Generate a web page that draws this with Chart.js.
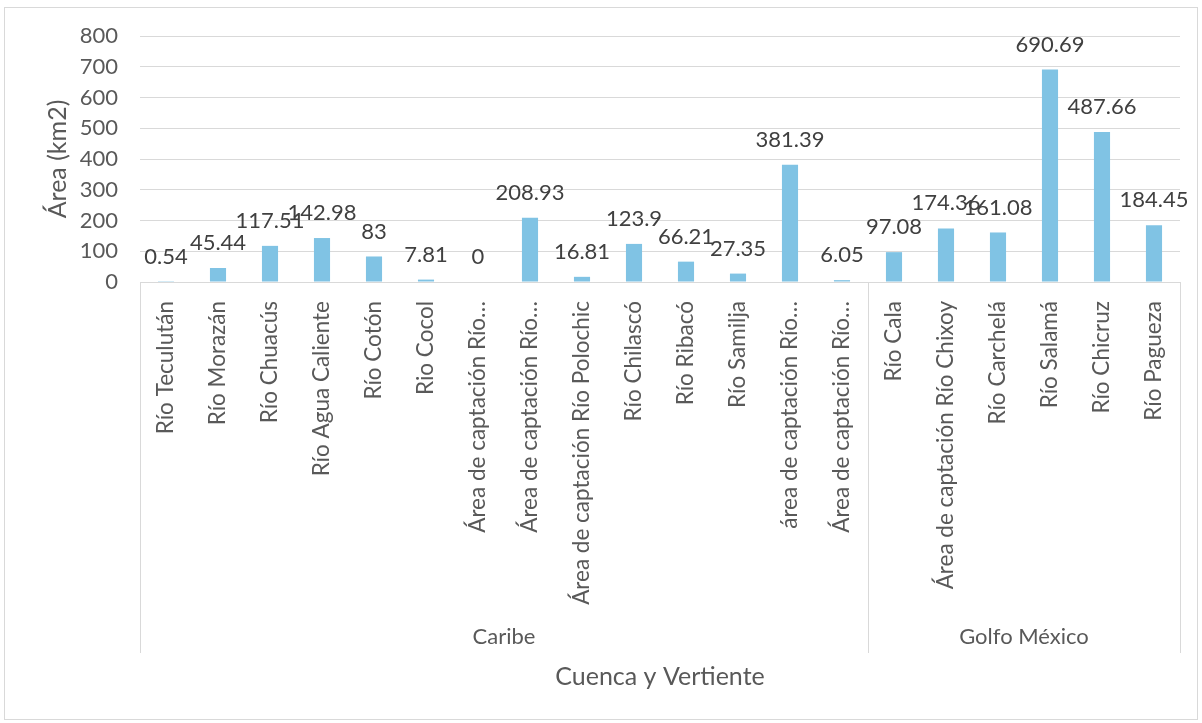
<!DOCTYPE html>
<html>
<head>
<meta charset="utf-8">
<script src="https://cdn.jsdelivr.net/npm/chart.js"></script>
<style>
    body { margin: 0; background: #ffffff; }
    #wrap { width: 1202px; height: 723px; }
</style>
</head>
<body>
<div id="wrap"><canvas id="chart" width="1202" height="723"></canvas></div>
<script>
// categories (labels as shown on the axis, truncated ones kept as in the picture)
const rivers = [
    'Río Teculután', 'Río Morazán', 'Río Chuacús', 'Río Agua Caliente', 'Río Cotón',
    'Rio Cocol', 'Área de captación Río…', 'Área de captación Río…',
    'Área de captación Río Polochic', 'Río Chilascó', 'Río Ribacó', 'Río Samilja',
    'área de captación Río…', 'Área de captación Río…',
    'Río Cala', 'Área de captación Río Chixoy', 'Río Carchelá', 'Río Salamá',
    'Río Chicruz', 'Río Pagueza'
];
const areaKm2 = [
    0.54, 45.44, 117.51, 142.98, 83, 7.81, 0, 208.93, 16.81, 123.9, 66.21, 27.35,
    381.39, 6.05, 97.08, 174.36, 161.08, 690.69, 487.66, 184.45
];
const groupNames = ['Caribe', 'Golfo México'];
const groupSizes = [14, 6];
const yTicks = [0, 100, 200, 300, 400, 500, 600, 700, 800];
const yTitle = 'Área (km2)';

const FONT = 'Lato, "Open Sans", sans-serif';
const gridGray = '#D9D9D9';
const textGray = '#595959';

// data labels above each bar
const barLabels = {
    id: 'barLabels',
    afterDatasetsDraw(chart) {
        const ctx = chart.ctx;
        const meta = chart.getDatasetMeta(0);
        ctx.save();
        ctx.font = '22px ' + FONT;
        ctx.fillStyle = '#404040';
        ctx.textAlign = 'center';
        ctx.textBaseline = 'middle';
        meta.data.forEach((bar, i) => {
            ctx.fillText(String(areaKm2[i]), bar.x, bar.y - 25);
        });
        ctx.restore();
    }
};

// white background + outer frame
const frame = {
    id: 'frame',
    beforeDraw(chart) {
        const ctx = chart.ctx;
        ctx.save();
        ctx.fillStyle = '#ffffff';
        ctx.fillRect(0, 0, chart.width, chart.height);
        ctx.strokeStyle = gridGray;
        ctx.lineWidth = 1;
        ctx.strokeRect(4.5, 7.5, 1193, 712);
        ctx.restore();
    }
};

// y axis title, placed by hand (the built-in one drifts with the fixed scale width)
const valueTitle = {
    id: 'valueTitle',
    afterDraw(chart) {
        const ctx = chart.ctx;
        const area = chart.chartArea;
        ctx.save();
        ctx.translate(58, (area.top + area.bottom) / 2);
        ctx.rotate(-Math.PI / 2);
        ctx.font = '25px ' + FONT;
        ctx.fillStyle = textGray;
        ctx.textAlign = 'center';
        ctx.textBaseline = 'middle';
        ctx.fillText(yTitle, 0, 0);
        ctx.restore();
    }
};

// second level of the category axis (Caribe / Golfo México)
const groupAxis = {
    id: 'groupAxis',
    afterDraw(chart) {
        const ctx = chart.ctx;
        const xAxis = chart.scales.x;
        const half = (xAxis.getPixelForValue(1) - xAxis.getPixelForValue(0)) / 2;
        const top = chart.chartArea.bottom;
        const bottom = 653;
        ctx.save();
        ctx.strokeStyle = gridGray;
        ctx.lineWidth = 1;
        ctx.font = '22px ' + FONT;
        ctx.fillStyle = textGray;
        ctx.textAlign = 'center';
        ctx.textBaseline = 'middle';

        let start = 0;
        const edges = [xAxis.getPixelForValue(0) - half];
        groupSizes.forEach((size, g) => {
            const end = start + size - 1;
            const x0 = xAxis.getPixelForValue(start) - half;
            const x1 = xAxis.getPixelForValue(end) + half;
            edges.push(x1);
            ctx.fillText(groupNames[g], (x0 + x1) / 2, 637);
            start += size;
        });
        edges.forEach(x => {
            const px = Math.round(x) + 0.5;
            ctx.beginPath();
            ctx.moveTo(px, top);
            ctx.lineTo(px, bottom);
            ctx.stroke();
        });
        ctx.restore();
    }
};

const config = {
    type: 'bar',
    data: {
        labels: rivers,
        datasets: [{
            data: areaKm2,
            backgroundColor: '#80C3E4',
            borderWidth: 0,
            barPercentage: 0.31,
            categoryPercentage: 1
        }]
    },
    options: {
        responsive: false,
        animation: false,
        layout: {
            padding: { top: 36, right: 22, bottom: 0, left: 0 }
        },
        plugins: {
            legend: { display: false },
            tooltip: { enabled: false }
        },
        scales: {
            x: {
                grid: { display: false, drawTicks: false },
                border: { display: true, color: gridGray },
                ticks: {
                    autoSkip: false,
                    minRotation: 90,
                    maxRotation: 90,
                    padding: 19,
                    color: textGray,
                    font: { family: FONT, size: 22.5 }
                },
                title: {
                    display: true,
                    text: 'Cuenca y Vertiente',
                    color: textGray,
                    font: { family: FONT, size: 25 },
                    padding: { top: 0, bottom: 31 }
                },
                afterFit(scale) { scale.height = 441; }
            },
            y: {
                min: 0,
                max: 800,
                grid: { color: gridGray, drawTicks: false },
                border: { display: false },
                afterBuildTicks(scale) { scale.ticks = yTicks.map(v => ({ value: v })); },
                ticks: {
                    padding: 22,
                    color: textGray,
                    font: { family: FONT, size: 22 }
                },
                afterFit(scale) { scale.width = 140; }
            }
        }
    },
    plugins: [frame, barLabels, valueTitle, groupAxis]
};

const chart = new Chart(document.getElementById('chart'), config);
</script>
</body>
</html>
